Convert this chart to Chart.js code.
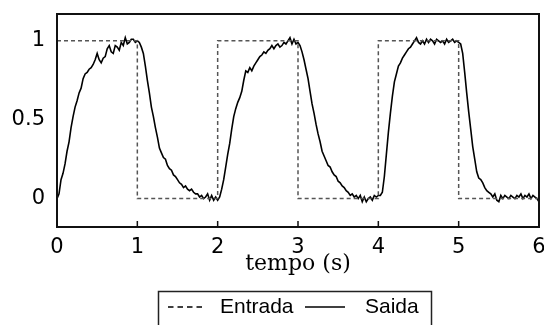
<!DOCTYPE html>
<html>
<head>
<meta charset="utf-8">
<script src="https://cdn.jsdelivr.net/npm/chart.js@4"></script>
<style>
  html, body { margin: 0; padding: 0; background: #fff; }
  #wrap { width: 544px; height: 325px; }
</style>
</head>
<body>
<div id="wrap"><canvas id="myChart" width="544" height="325"></canvas></div>
<script>
// Entrada (step input)
const entradaTempo = [0, 1, 1, 2, 2, 3, 3, 4, 4, 5, 5, 6];
const entrada = [1, 1, 0, 0, 1, 1, 0, 0, 1, 1, 0, 0];

// Saida (measured output), sampled every 0.025 s from 0 to 6
const dt = 0.025;
const saida = [
  // 0 .. 1
  0.00, 0.03, 0.12, 0.16, 0.22, 0.30, 0.36, 0.45, 0.52, 0.58,
  0.62, 0.67, 0.70, 0.76, 0.79, 0.80, 0.82, 0.83, 0.85, 0.88,
  0.92, 0.88, 0.86, 0.89, 0.90, 0.95, 0.97, 0.93, 0.92, 0.97,
  0.96, 0.94, 0.99, 0.97, 1.02, 0.98, 0.99, 1.01, 1.01, 0.99,
  1.00,
  // 1 .. 2
  0.99, 0.96, 0.92, 0.84, 0.75, 0.67, 0.58, 0.52, 0.45, 0.39,
  0.32, 0.29, 0.26, 0.25, 0.21, 0.19, 0.18, 0.15, 0.14, 0.12,
  0.10, 0.09, 0.07, 0.08, 0.06, 0.05, 0.06, 0.04, 0.03, 0.03,
  0.01, 0.02, 0.00, 0.01, 0.03, -0.01, 0.02, -0.01, 0.01, -0.01,
  // 2 .. 3
  0.01, 0.06, 0.12, 0.20, 0.28, 0.35, 0.44, 0.52, 0.57, 0.61,
  0.64, 0.68, 0.75, 0.81, 0.80, 0.83, 0.81, 0.84, 0.86, 0.88,
  0.90, 0.91, 0.93, 0.92, 0.94, 0.95, 0.97, 0.95, 0.97, 0.98,
  0.96, 0.97, 0.99, 0.98, 1.00, 1.02, 0.98, 1.01, 0.98, 0.99,
  // 3 .. 4
  0.97, 0.93, 0.88, 0.82, 0.76, 0.68, 0.60, 0.54, 0.47, 0.41,
  0.36, 0.30, 0.27, 0.24, 0.21, 0.20, 0.17, 0.15, 0.14, 0.11,
  0.10, 0.08, 0.07, 0.05, 0.04, 0.02, 0.03, 0.01, 0.02, 0.00,
  0.02, -0.02, 0.01, -0.02, 0.00, 0.01, -0.01, 0.02, 0.01, 0.02,
  // 4 .. 5
  0.02, 0.04, 0.14, 0.28, 0.42, 0.54, 0.65, 0.74, 0.79, 0.84,
  0.86, 0.89, 0.91, 0.93, 0.95, 0.96, 0.98, 1.00, 1.02, 0.99,
  0.98, 1.00, 0.98, 1.01, 0.99, 1.01, 1.00, 0.98, 1.01, 1.00,
  0.99, 1.00, 0.98, 1.01, 0.99, 1.00, 1.01, 0.99, 1.00, 0.99,
  // 5 .. 6
  0.98, 0.92, 0.80, 0.67, 0.55, 0.44, 0.33, 0.25, 0.17, 0.13,
  0.12, 0.10, 0.07, 0.05, 0.04, 0.03, 0.01, 0.03, -0.01, -0.02,
  0.02, 0.00, 0.02, 0.01, 0.00, 0.02, 0.01, 0.00, 0.02, 0.01,
  0.03, 0.00, 0.02, 0.01, 0.03, 0.00, 0.02, 0.01, 0.00, -0.02
];

const xTicks = [0, 1, 2, 3, 4, 5, 6];
const yTicks = [0, 0.5, 1];
const labels = ['Entrada', 'Saida'];

const entradaPts = entradaTempo.map((t, i) => ({ x: t, y: entrada[i] }));
const saidaPts = saida.map((v, i) => ({ x: +(i * dt).toFixed(3), y: v }));

// box around the plot, inward x tick marks, legend box
const framePlugin = {
  id: 'frame',
  afterDraw(chart) {
    const { ctx, chartArea: a, scales } = chart;
    ctx.save();
    ctx.strokeStyle = '#111';
    ctx.lineWidth = 2;
    ctx.strokeRect(a.left, a.top, a.right - a.left, a.bottom - a.top);
    ctx.lineWidth = 1.5;
    ctx.beginPath();
    xTicks.forEach(v => {
      const px = scales.x.getPixelForValue(v);
      ctx.moveTo(px, a.bottom);
      ctx.lineTo(px, a.bottom - 6);
    });
    ctx.stroke();

    // legend
    ctx.strokeStyle = '#222';
    ctx.lineWidth = 1.5;
    ctx.strokeRect(158.5, 291.5, 273, 40);
    const ly = 307;
    const ds = chart.data.datasets;
    ctx.font = '21px "Liberation Sans", Arial, sans-serif';
    ctx.fillStyle = '#000';
    ctx.textBaseline = 'middle';
    ctx.textAlign = 'left';
    ctx.strokeStyle = '#000';
    ctx.lineWidth = 1.5;
    ctx.setLineDash([5.5, 4]);
    ctx.beginPath();
    ctx.moveTo(168, ly);
    ctx.lineTo(202, ly);
    ctx.stroke();
    ctx.setLineDash([]);
    ctx.fillText(ds[0].label, 220, ly);
    ctx.beginPath();
    ctx.moveTo(305, ly);
    ctx.lineTo(345, ly);
    ctx.stroke();
    ctx.fillText(ds[1].label, 365, ly);
    ctx.restore();
  }
};

new Chart(document.getElementById('myChart').getContext('2d'), {
  type: 'line',
  data: {
    datasets: [
      {
        label: labels[0],
        data: entradaPts,
        borderColor: '#555',
        borderWidth: 1.5,
        borderDash: [4, 3],
        pointRadius: 0,
        tension: 0,
        fill: false
      },
      {
        label: labels[1],
        data: saidaPts,
        borderColor: '#000',
        borderWidth: 1.6,
        pointRadius: 0,
        tension: 0,
        fill: false
      }
    ]
  },
  options: {
    responsive: false,
    animation: false,
    events: [],
    layout: { padding: { top: 14, right: 5, left: 0, bottom: 50 } },
    plugins: {
      legend: { display: false },
      tooltip: { enabled: false }
    },
    scales: {
      x: {
        type: 'linear',
        min: 0,
        max: 6,
        grid: { display: false },
        border: { display: false },
        afterBuildTicks: s => { s.ticks = xTicks.map(v => ({ value: v })); },
        afterFit: s => { s.height = 48; s.paddingLeft = 0; s.paddingRight = 0; },
        ticks: {
          padding: 0,
          color: '#000',
          font: { family: '"DejaVu Sans", sans-serif', size: 21 }
        },
        title: {
          display: true,
          text: 'tempo (s)',
          color: '#000',
          padding: 0,
          font: { family: '"DejaVu Serif", serif', size: 22, lineHeight: 1 }
        }
      },
      y: {
        min: -0.18,
        max: 1.17,
        grid: { display: false },
        border: { display: false },
        afterBuildTicks: s => { s.ticks = yTicks.map(v => ({ value: v })); },
        afterFit: s => { s.width = 57; s.paddingTop = 0; s.paddingBottom = 0; },
        ticks: {
          padding: 4,
          color: '#000',
          font: { family: '"DejaVu Sans", sans-serif', size: 21 },
          callback: v => String(v)
        }
      }
    }
  },
  plugins: [framePlugin]
});
</script>
</body>
</html>
